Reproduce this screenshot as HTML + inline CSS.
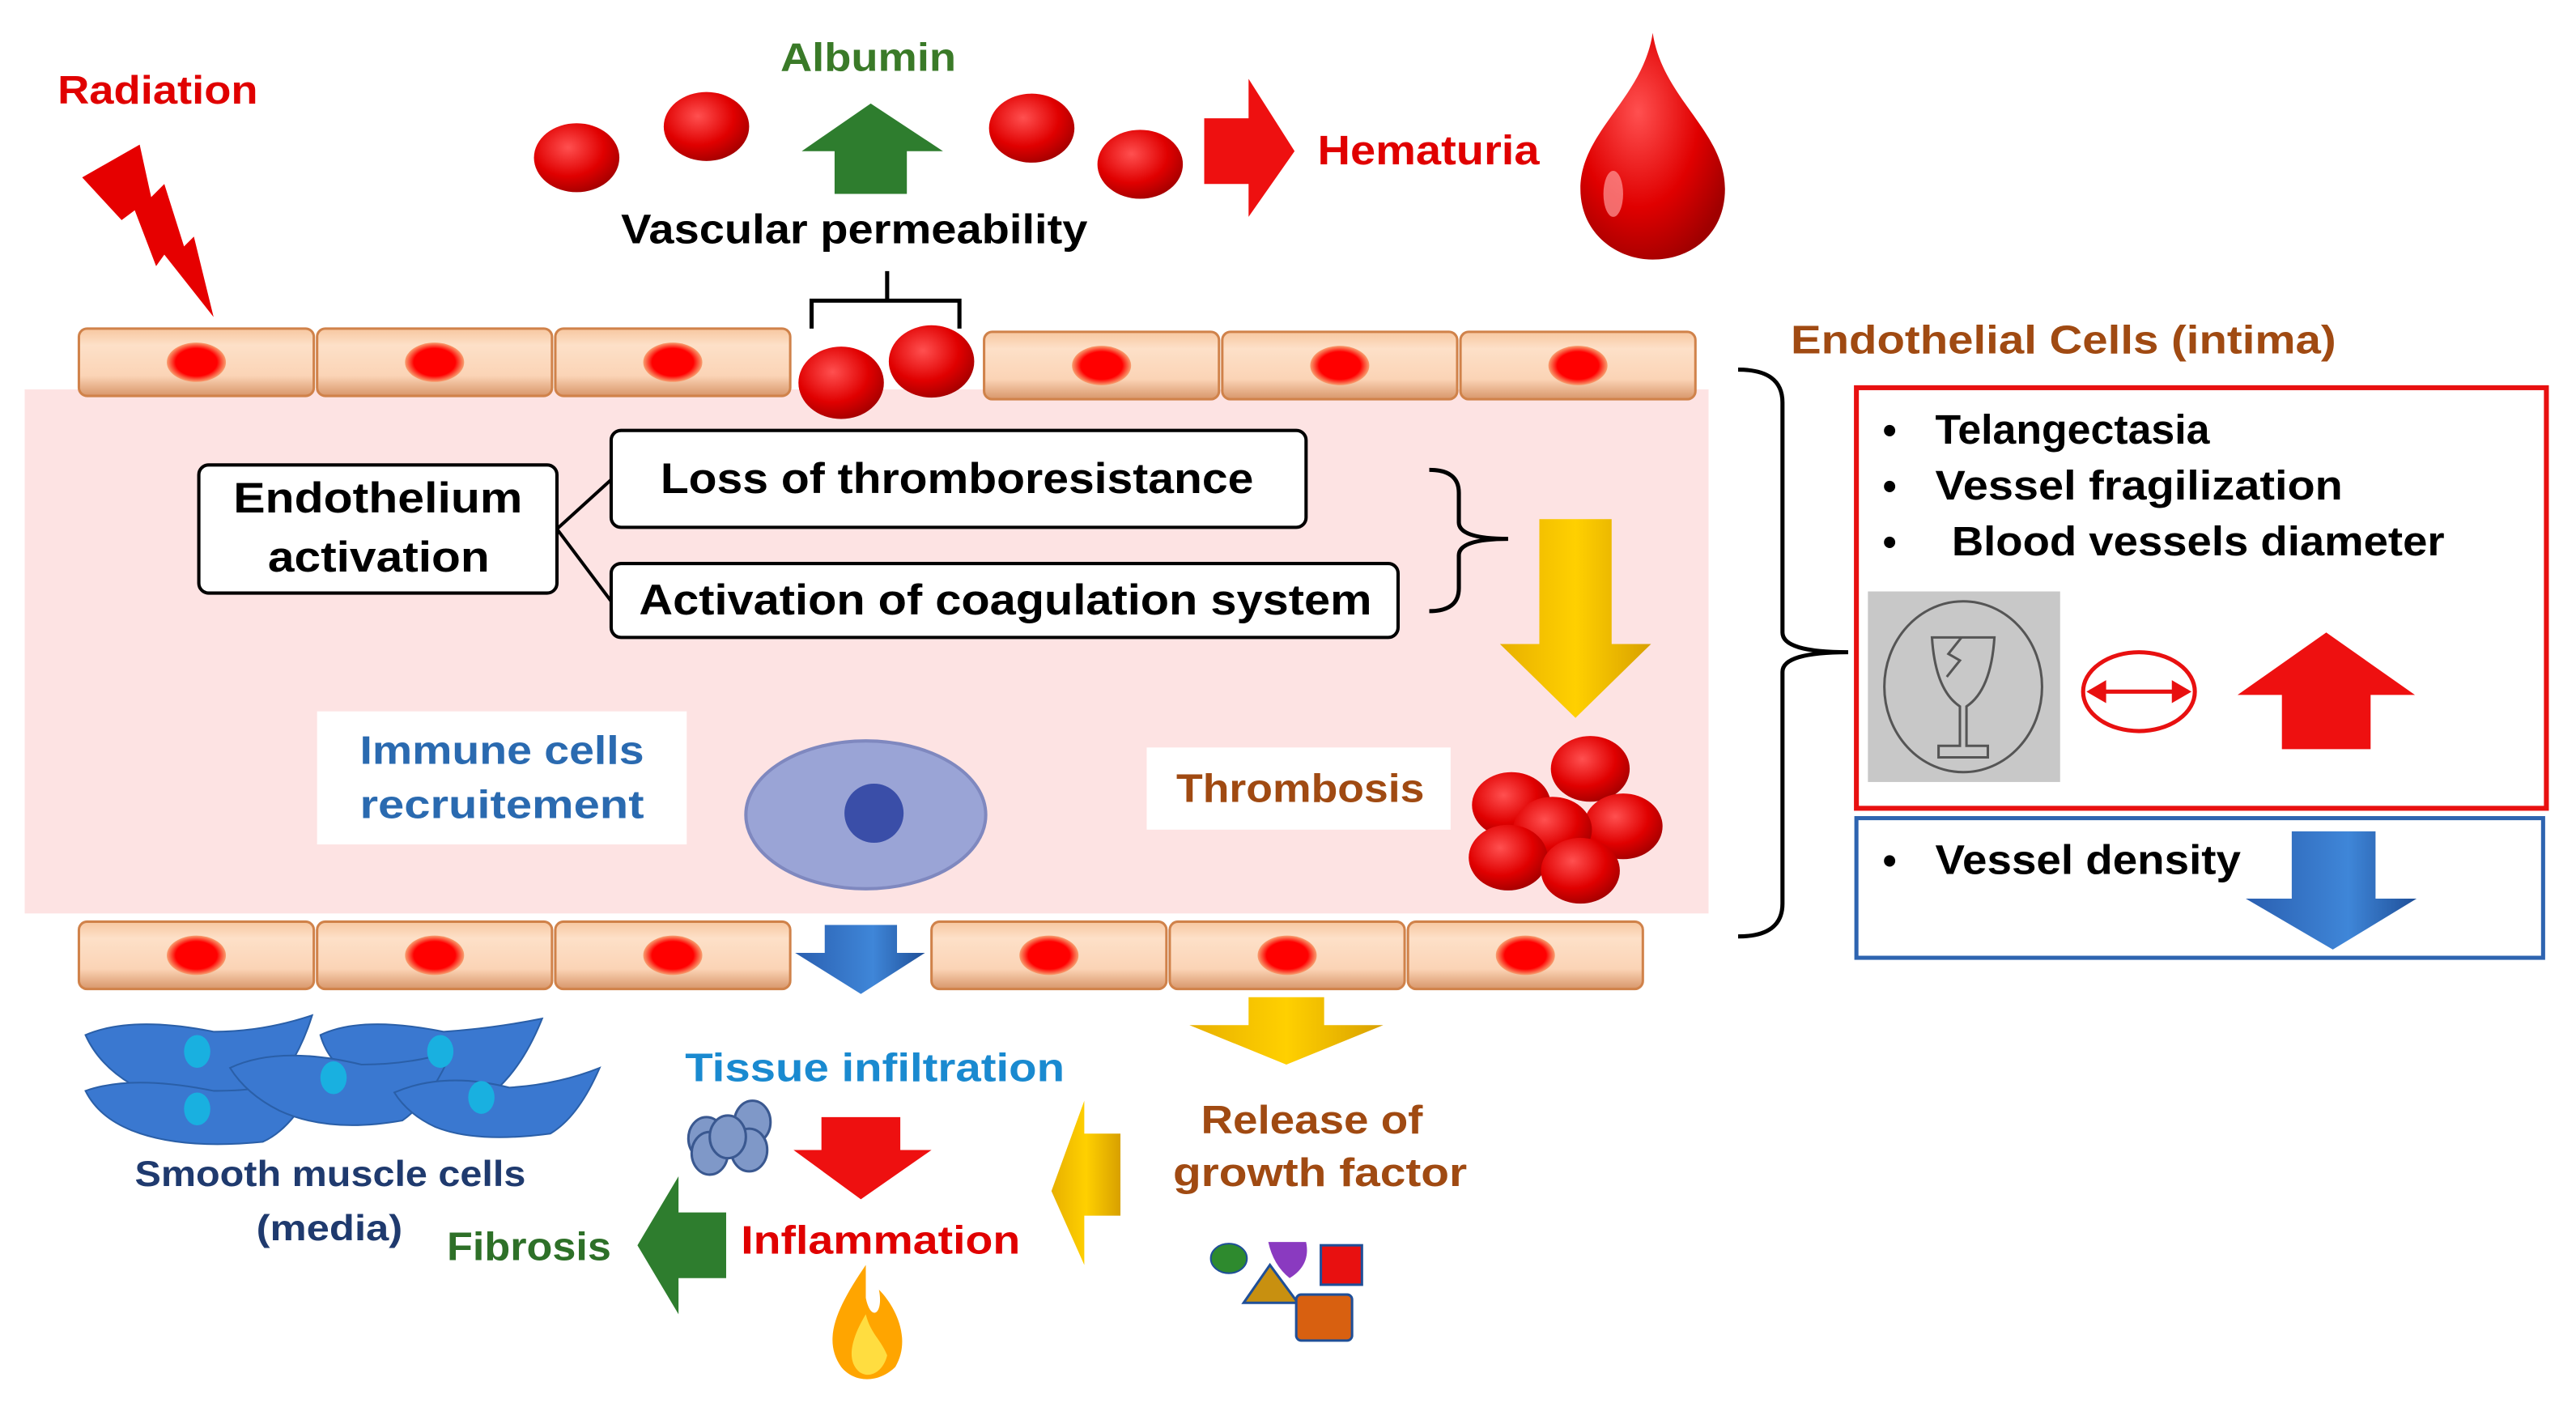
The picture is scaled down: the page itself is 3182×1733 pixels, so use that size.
<!DOCTYPE html>
<html><head><meta charset="utf-8"><style>
html,body{margin:0;padding:0;background:#fff;}
svg{display:block;}
text{font-family:"Liberation Sans",sans-serif;font-weight:bold;}
</style></head><body>
<svg width="3182" height="1733" viewBox="0 0 1568 854" xmlns="http://www.w3.org/2000/svg">
<defs>
<linearGradient id="cell" x1="0" y1="0" x2="0" y2="1">
<stop offset="0" stop-color="#f7c7a0"/><stop offset="0.25" stop-color="#fde0c8"/><stop offset="0.7" stop-color="#fbd4b6"/><stop offset="1" stop-color="#d8966a"/></linearGradient>
<radialGradient id="rbc" cx="0.4" cy="0.35" r="0.7"><stop offset="0" stop-color="#ff5050"/><stop offset="0.6" stop-color="#e00000"/><stop offset="1" stop-color="#a00000"/></radialGradient>
<radialGradient id="nuc" cx="0.5" cy="0.5" r="0.5"><stop offset="0.7" stop-color="#f00"/><stop offset="1" stop-color="#f8a070"/></radialGradient>
<linearGradient id="yel" x1="0" y1="0" x2="1" y2="0"><stop offset="0" stop-color="#e8b000"/><stop offset="0.5" stop-color="#ffd000"/><stop offset="1" stop-color="#d8a000"/></linearGradient>
<linearGradient id="blu" x1="0" y1="0" x2="1" y2="0"><stop offset="0" stop-color="#2a5fb0"/><stop offset="0.6" stop-color="#3f86d8"/><stop offset="1" stop-color="#1f4f98"/></linearGradient>
<g id="ec"><rect x="1" y="0" width="143" height="41" rx="5" fill="url(#cell)" stroke="#d0824a" stroke-width="1.5"/><ellipse cx="72.5" cy="20.5" rx="18" ry="12" fill="url(#nuc)"/></g>
</defs>

<!-- pink band -->
<rect x="15" y="237" width="1025" height="319" fill="#fde3e3"/>

<!-- top cells -->
<use href="#ec" x="47" y="200"/><use href="#ec" x="192" y="200"/><use href="#ec" x="337" y="200"/>
<use href="#ec" x="598" y="202"/><use href="#ec" x="743" y="202"/><use href="#ec" x="888" y="202"/>
<ellipse cx="512" cy="233" rx="26" ry="22" fill="url(#rbc)"/>
<ellipse cx="567" cy="220" rx="26" ry="22" fill="url(#rbc)"/>

<!-- bottom cells -->
<use href="#ec" x="47" y="561"/><use href="#ec" x="192" y="561"/><use href="#ec" x="337" y="561"/>
<use href="#ec" x="566" y="561"/><use href="#ec" x="711" y="561"/><use href="#ec" x="856" y="561"/>
<polygon points="502,563 546,563 546,580 563,580 524,605 484,580 502,580" fill="url(#blu)"/>

<!-- radiation -->
<text x="35" y="63" font-size="24" fill="#e00000" textLength="122" lengthAdjust="spacingAndGlyphs">Radiation</text>
<polygon points="50,108 85,88 92,120 100,112 112,150 118,144 130,193 100,155 95,162 82,128 74,134" fill="#e60000"/>

<!-- top -->
<ellipse cx="351" cy="96" rx="26" ry="21" fill="url(#rbc)"/>
<ellipse cx="430" cy="77" rx="26" ry="21" fill="url(#rbc)"/>
<ellipse cx="628" cy="78" rx="26" ry="21" fill="url(#rbc)"/>
<ellipse cx="694" cy="100" rx="26" ry="21" fill="url(#rbc)"/>
<text x="475" y="43" font-size="24" fill="#3a7a28" textLength="107" lengthAdjust="spacingAndGlyphs">Albumin</text>
<polygon points="530,63 574,92 552,92 552,118 508,118 508,92 488,92" fill="#2e7d2e"/>
<text x="378" y="148" font-size="25" fill="#000" textLength="284" lengthAdjust="spacingAndGlyphs">Vascular permeability</text>
<path d="M494,200 L494,183 L540,183 L540,165 M540,183 L584,183 L584,200" fill="none" stroke="#000" stroke-width="2.5"/>
<polygon points="733,72 760,72 760,48 788,92 760,132 760,112 733,112" fill="#ee1010"/>
<text x="802" y="100" font-size="25" fill="#e00000" textLength="135" lengthAdjust="spacingAndGlyphs">Hematuria</text>
<path d="M1006,20 C1000,60 962,80 962,115 C962,142 984,158 1006,158 C1030,158 1050,142 1050,115 C1050,80 1012,60 1006,20 Z" fill="url(#rbc)"/>
<ellipse cx="982" cy="118" rx="6" ry="14" fill="#ff9a9a" opacity="0.7"/>

<!-- Endothelial label -->
<text x="1090" y="215" font-size="24" fill="#a04a12" textLength="332" lengthAdjust="spacingAndGlyphs">Endothelial Cells (intima)</text>

<!-- boxes -->
<rect x="121" y="283" width="218" height="78" rx="6" fill="#fff" stroke="#000" stroke-width="2"/>
<text x="142" y="312" font-size="26" fill="#000" textLength="176" lengthAdjust="spacingAndGlyphs">Endothelium</text>
<text x="163" y="348" font-size="26" fill="#000" textLength="135" lengthAdjust="spacingAndGlyphs">activation</text>
<path d="M339,322 L372,292 M339,322 L372,366" stroke="#000" stroke-width="2" fill="none"/>
<rect x="372" y="262" width="423" height="59" rx="6" fill="#fff" stroke="#000" stroke-width="2"/>
<text x="402" y="300" font-size="26" fill="#000" textLength="361" lengthAdjust="spacingAndGlyphs">Loss of thromboresistance</text>
<rect x="372" y="343" width="479" height="45" rx="6" fill="#fff" stroke="#000" stroke-width="2"/>
<text x="389" y="374" font-size="26" fill="#000" textLength="446" lengthAdjust="spacingAndGlyphs">Activation of coagulation system</text>
<path d="M870,286 Q888,286 888,300 L888,318 Q888,328 918,328 Q888,328 888,338 L888,358 Q888,372 870,372" fill="none" stroke="#000" stroke-width="2.5"/>
<polygon points="937,316 981,316 981,392 1005,392 959,437 913,392 937,392" fill="url(#yel)"/>

<!-- immune -->
<rect x="193" y="433" width="225" height="81" fill="#fff"/>
<text x="219" y="465" font-size="24" fill="#2a6ab0" textLength="173" lengthAdjust="spacingAndGlyphs">Immune cells</text>
<text x="219" y="498" font-size="24" fill="#2a6ab0" textLength="173" lengthAdjust="spacingAndGlyphs">recruitement</text>
<ellipse cx="527" cy="496" rx="73" ry="45" fill="#9aa4d6" stroke="#7f88bf" stroke-width="2"/>
<circle cx="532" cy="495" r="18" fill="#3a4ea8"/>

<!-- thrombosis -->
<rect x="698" y="455" width="185" height="50" fill="#fff"/>
<text x="716" y="488" font-size="24" fill="#a04a12" textLength="151" lengthAdjust="spacingAndGlyphs">Thrombosis</text>
<ellipse cx="968" cy="468" rx="24" ry="20" fill="url(#rbc)"/>
<ellipse cx="920" cy="490" rx="24" ry="20" fill="url(#rbc)"/>
<ellipse cx="988" cy="503" rx="24" ry="20" fill="url(#rbc)"/>
<ellipse cx="945" cy="505" rx="24" ry="20" fill="url(#rbc)"/>
<ellipse cx="918" cy="522" rx="24" ry="20" fill="url(#rbc)"/>
<ellipse cx="962" cy="530" rx="24" ry="20" fill="url(#rbc)"/>

<!-- big bracket -->
<path d="M1058,225 Q1085,225 1085,245 L1085,385 Q1085,397 1125,397 Q1085,397 1085,409 L1085,550 Q1085,570 1058,570" fill="none" stroke="#000" stroke-width="2.5"/>

<!-- red box -->
<rect x="1130" y="236" width="420" height="256" fill="#fff" stroke="#e81010" stroke-width="3"/>
<text x="1146" y="270" font-size="24" fill="#000">•</text>
<text x="1178" y="270" font-size="25" fill="#000" textLength="167" lengthAdjust="spacingAndGlyphs">Telangectasia</text>
<text x="1146" y="304" font-size="24" fill="#000">•</text>
<text x="1178" y="304" font-size="25" fill="#000" textLength="248" lengthAdjust="spacingAndGlyphs">Vessel fragilization</text>
<text x="1146" y="338" font-size="24" fill="#000">•</text>
<text x="1188" y="338" font-size="25" fill="#000" textLength="300" lengthAdjust="spacingAndGlyphs">Blood vessels diameter</text>
<rect x="1137" y="360" width="117" height="116" fill="#c8c8c8"/>
<ellipse cx="1195" cy="418" rx="48" ry="52" fill="none" stroke="#555" stroke-width="1.5"/>
<path d="M1176,388 L1214,388 Q1212,420 1197,430 L1197,454 L1210,454 L1210,461 L1180,461 L1180,454 L1193,454 L1193,430 Q1178,420 1176,388 Z" fill="none" stroke="#555" stroke-width="1.5"/>
<path d="M1194,388 L1186,398 L1193,402 L1185,412" fill="none" stroke="#555" stroke-width="1.5"/>
<ellipse cx="1302" cy="421" rx="34" ry="24" fill="#fff" stroke="#e81010" stroke-width="2.5"/>
<path d="M1272,421 L1332,421" stroke="#e81010" stroke-width="2.5"/>
<polygon points="1270,421 1282,414 1282,428" fill="#e81010"/><polygon points="1334,421 1322,414 1322,428" fill="#e81010"/>
<polygon points="1416,385 1470,423 1443,423 1443,456 1389,456 1389,423 1362,423" fill="#ee1010"/>

<!-- blue box -->
<rect x="1130" y="498" width="418" height="85" fill="#fff" stroke="#2e64b0" stroke-width="2.5"/>
<text x="1146" y="532" font-size="24" fill="#000">•</text>
<text x="1178" y="532" font-size="25" fill="#000" textLength="186" lengthAdjust="spacingAndGlyphs">Vessel density</text>
<polygon points="1395,506 1446,506 1446,547 1471,547 1420,578 1367,547 1395,547" fill="url(#blu)"/>

<!-- smooth muscle -->
<g fill="#3a78d0" stroke="#2a5fa8" stroke-width="1">
<path d="M52,630 Q80,618 130,628 Q160,628 190,618 Q180,650 160,668 Q120,682 80,660 Q60,648 52,630Z"/>
<path d="M195,630 Q220,618 270,628 Q300,626 330,620 Q318,650 300,665 Q260,675 220,660 Q200,648 195,630Z"/>
<path d="M52,664 Q80,654 130,664 Q170,664 195,652 Q180,686 160,695 Q110,700 80,688 Q60,680 52,664Z"/>
<path d="M140,650 Q170,636 220,648 Q250,648 275,640 Q262,670 245,682 Q200,690 170,676 Q150,666 140,650Z"/>
<path d="M240,665 Q270,652 310,662 Q340,660 365,650 Q352,680 335,690 Q290,696 265,686 Q248,678 240,665Z"/>
</g>
<g fill="#19b0e0"><ellipse cx="120" cy="640" rx="8" ry="10"/><ellipse cx="268" cy="640" rx="8" ry="10"/><ellipse cx="120" cy="675" rx="8" ry="10"/><ellipse cx="203" cy="656" rx="8" ry="10"/><ellipse cx="293" cy="668" rx="8" ry="10"/></g>
<text x="82" y="722" font-size="22" fill="#1f3a6e" textLength="238" lengthAdjust="spacingAndGlyphs">Smooth muscle cells</text>
<text x="156" y="755" font-size="22" fill="#1f3a6e" textLength="89" lengthAdjust="spacingAndGlyphs">(media)</text>

<!-- fibrosis -->
<text x="272" y="767" font-size="24" fill="#2e7028" textLength="100" lengthAdjust="spacingAndGlyphs">Fibrosis</text>
<polygon points="388,758 413,716 413,738 442,738 442,778 413,778 413,800" fill="#2e7d2e"/>

<!-- tissue infiltration -->
<text x="417" y="658" font-size="24" fill="#1a8ad0" textLength="231" lengthAdjust="spacingAndGlyphs">Tissue infiltration</text>
<g fill="#7f98c8" stroke="#3a5890" stroke-width="1.5">
<ellipse cx="430" cy="693" rx="11" ry="13"/><ellipse cx="458" cy="683" rx="11" ry="13"/><ellipse cx="432" cy="712" rx="11" ry="13" transform="translate(0,-10)"/><ellipse cx="456" cy="700" rx="11" ry="13"/><ellipse cx="443" cy="692" rx="11" ry="13"/></g>
<polygon points="500,680 548,680 548,700 567,700 524,730 483,700 500,700" fill="#ee1010"/>
<text x="451" y="763" font-size="24" fill="#e00000" textLength="170" lengthAdjust="spacingAndGlyphs">Inflammation</text>
<path d="M527,770 C510,795 500,815 512,832 C520,842 535,842 545,832 C555,815 545,795 535,785 C538,800 530,805 527,790 Z" fill="#ffa500"/>
<path d="M527,800 C518,815 515,828 523,835 C530,840 538,834 540,825 C536,815 530,812 527,800Z" fill="#ffdd40"/>

<!-- yellow arrows -->
<polygon points="760,607 806,607 806,624 842,624 783,648 724,624 760,624" fill="url(#yel)"/>
<polygon points="660,670 660,690 682,690 682,740 660,740 660,770 640,725" fill="url(#yel)"/>
<text x="731" y="690" font-size="24" fill="#a04a12" textLength="135" lengthAdjust="spacingAndGlyphs">Release of</text>
<text x="714" y="722" font-size="24" fill="#a04a12" textLength="179" lengthAdjust="spacingAndGlyphs">growth factor</text>

<!-- growth factor shapes -->
<ellipse cx="748" cy="766" rx="11" ry="9" fill="#2e8a2e" stroke="#1f4f98"/>
<path d="M772,756 L795,756 Q798,770 785,778 Q775,770 772,756Z" fill="#8a3ac0"/>
<rect x="804" y="758" width="25" height="24" fill="#e81010" stroke="#1f4f98" stroke-width="1.5"/>
<polygon points="773,770 757,793 790,793" fill="#c89010" stroke="#1f4f98" stroke-width="1.5"/>
<rect x="789" y="788" width="34" height="28" rx="3" fill="#d86010" stroke="#1f4f98" stroke-width="1.5"/>
</svg>
</body></html>
